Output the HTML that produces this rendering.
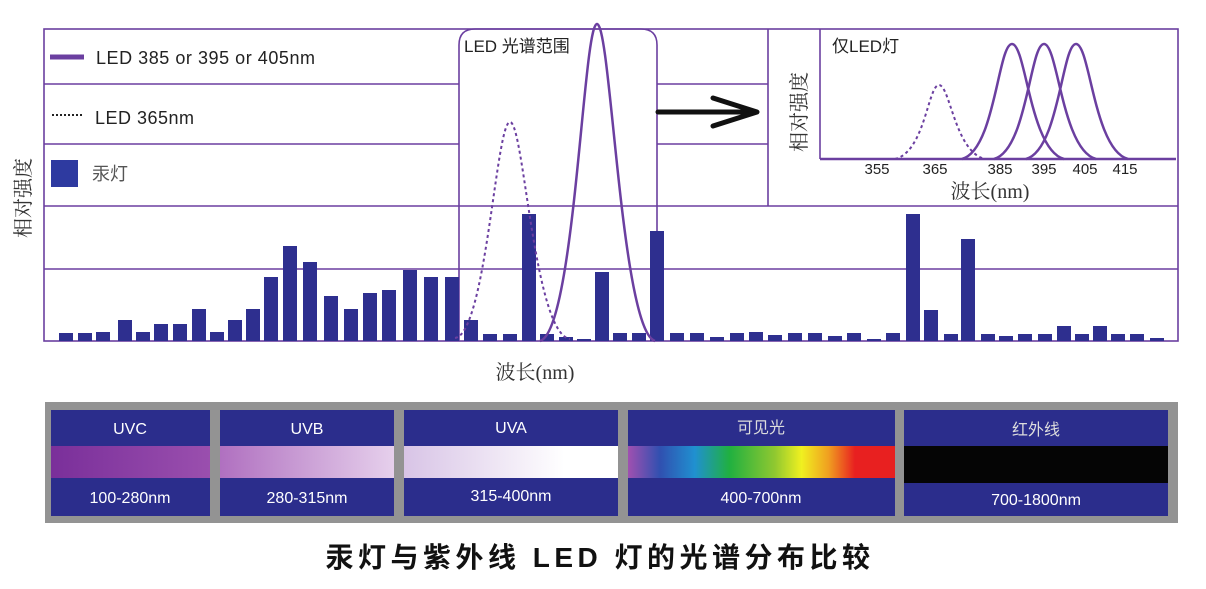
<!DOCTYPE html>
<html><head><meta charset="utf-8"><style>
html,body{margin:0;padding:0;background:#fff;}
svg{display:block;}
</style></head><body>
<svg width="1206" height="589" viewBox="0 0 1206 589" xmlns="http://www.w3.org/2000/svg">
<g stroke="#6b3fa0" stroke-width="1.6" fill="none">
<rect x="44" y="29" width="1134" height="312"/>
<line x1="44" y1="84" x2="459" y2="84"/>
<line x1="657" y1="84" x2="768" y2="84"/>
<line x1="44" y1="144" x2="459" y2="144"/>
<line x1="657" y1="144" x2="768" y2="144"/>
<line x1="44" y1="206" x2="1178" y2="206"/>
<line x1="44" y1="269" x2="1178" y2="269"/>
<line x1="768" y1="29" x2="768" y2="206"/>
<path d="M459,341 V45 Q459,29 475,29 H641 Q657,29 657,45 V341"/>
<line x1="820" y1="29" x2="820" y2="159"/>
<line x1="820" y1="159" x2="1176" y2="159" stroke-width="2.5"/>
</g>
<g fill="#2e2f8f">
<rect x="59" y="333" width="14" height="8"/><rect x="78" y="333" width="14" height="8"/><rect x="96" y="332" width="14" height="9"/><rect x="118" y="320" width="14" height="21"/><rect x="136" y="332" width="14" height="9"/><rect x="154" y="324" width="14" height="17"/><rect x="173" y="324" width="14" height="17"/><rect x="192" y="309" width="14" height="32"/><rect x="210" y="332" width="14" height="9"/><rect x="228" y="320" width="14" height="21"/><rect x="246" y="309" width="14" height="32"/><rect x="264" y="277" width="14" height="64"/><rect x="283" y="246" width="14" height="95"/><rect x="303" y="262" width="14" height="79"/><rect x="324" y="296" width="14" height="45"/><rect x="344" y="309" width="14" height="32"/><rect x="363" y="293" width="14" height="48"/><rect x="382" y="290" width="14" height="51"/><rect x="403" y="270" width="14" height="71"/><rect x="424" y="277" width="14" height="64"/><rect x="445" y="277" width="14" height="64"/><rect x="464" y="320" width="14" height="21"/><rect x="483" y="334" width="14" height="7"/><rect x="503" y="334" width="14" height="7"/><rect x="522" y="214" width="14" height="127"/><rect x="540" y="334" width="14" height="7"/><rect x="559" y="337" width="14" height="4"/><rect x="577" y="339" width="14" height="2"/><rect x="595" y="272" width="14" height="69"/><rect x="613" y="333" width="14" height="8"/><rect x="632" y="333" width="14" height="8"/><rect x="650" y="231" width="14" height="110"/><rect x="670" y="333" width="14" height="8"/><rect x="690" y="333" width="14" height="8"/><rect x="710" y="337" width="14" height="4"/><rect x="730" y="333" width="14" height="8"/><rect x="749" y="332" width="14" height="9"/><rect x="768" y="335" width="14" height="6"/><rect x="788" y="333" width="14" height="8"/><rect x="808" y="333" width="14" height="8"/><rect x="828" y="336" width="14" height="5"/><rect x="847" y="333" width="14" height="8"/><rect x="867" y="339" width="14" height="2"/><rect x="886" y="333" width="14" height="8"/><rect x="906" y="214" width="14" height="127"/><rect x="924" y="310" width="14" height="31"/><rect x="944" y="334" width="14" height="7"/><rect x="961" y="239" width="14" height="102"/><rect x="981" y="334" width="14" height="7"/><rect x="999" y="336" width="14" height="5"/><rect x="1018" y="334" width="14" height="7"/><rect x="1038" y="334" width="14" height="7"/><rect x="1057" y="326" width="14" height="15"/><rect x="1075" y="334" width="14" height="7"/><rect x="1093" y="326" width="14" height="15"/><rect x="1111" y="334" width="14" height="7"/><rect x="1130" y="334" width="14" height="7"/><rect x="1150" y="338" width="14" height="3"/>
</g>
<g fill="none" stroke="#6b3fa0">
<path d="M455,338 C486,334 496,122 510,122 C524,122 534,334 570,339" stroke-width="2" stroke-dasharray="3,3"/>
<path d="M540,341 C575,330 583,24 597,24 C611,24 621,330 655,341" stroke-width="2.5"/>
<path d="M895,159 C925,152 928,85 939,85 C950,85 955,152 985,159" stroke-width="2" stroke-dasharray="3,3"/>
<path d="M962,159 C995,150 998,44 1012,44 C1026,44 1030,150 1064,159" stroke-width="2.5"/>
<path d="M994,159 C1027,150 1030,44 1044,44 C1058,44 1062,150 1096,159" stroke-width="2.5"/>
<path d="M1026,159 C1059,150 1062,44 1076,44 C1090,44 1094,150 1128,159" stroke-width="2.5"/>
<line x1="50" y1="57" x2="84" y2="57" stroke-width="5"/>
<line x1="52" y1="115" x2="84" y2="115" stroke-width="2" stroke="#222" stroke-dasharray="2,2"/>
</g>
<rect x="51" y="160" width="27" height="27" fill="#2e3aa0"/>
<g stroke="#111" stroke-width="5" fill="none" stroke-linecap="round">
<line x1="658" y1="112" x2="752" y2="112"/>
<path d="M713,98 L757,112 L713,126" stroke-linejoin="round"/>
</g>
<g font-family="Liberation Sans, Noto Sans CJK SC, sans-serif" fill="#222">
<text x="96" y="64" font-size="18" textLength="219">LED 385 or 395 or 405nm</text>
<text x="95" y="124" font-size="18" textLength="99">LED 365nm</text>
<text x="92" y="180" font-size="18" fill="#555">汞灯</text>
<text x="464" y="52" font-size="17">LED 光谱范围</text>
<text x="832" y="52" font-size="17">仅LED灯</text>
<g font-size="15"><text x="877" y="174" text-anchor="middle">355</text><text x="935" y="174" text-anchor="middle">365</text><text x="1000" y="174" text-anchor="middle">385</text><text x="1044" y="174" text-anchor="middle">395</text><text x="1085" y="174" text-anchor="middle">405</text><text x="1125" y="174" text-anchor="middle">415</text></g>
</g>
<g font-family="Liberation Serif, Noto Serif CJK SC, serif" fill="#333" font-size="20">
<text x="535" y="379" text-anchor="middle">波长(nm)</text>
<text x="990" y="198" text-anchor="middle">波长(nm)</text>
<text transform="translate(30,198) rotate(-90)" text-anchor="middle">相对强度</text>
<text transform="translate(806,112) rotate(-90)" text-anchor="middle">相对强度</text>
</g>
<defs>
<linearGradient id="g1"><stop offset="0" stop-color="#7a2f9a"/><stop offset="1" stop-color="#9a4fae"/></linearGradient>
<linearGradient id="g2"><stop offset="0" stop-color="#b070c0"/><stop offset="1" stop-color="#e6d0ec"/></linearGradient>
<linearGradient id="g3"><stop offset="0" stop-color="#d8c4e6"/><stop offset="0.75" stop-color="#ffffff"/><stop offset="1" stop-color="#fff"/></linearGradient>
<linearGradient id="g4"><stop offset="0" stop-color="#a050b0"/><stop offset="0.12" stop-color="#3050b0"/><stop offset="0.25" stop-color="#2090d0"/><stop offset="0.38" stop-color="#20b040"/><stop offset="0.55" stop-color="#90c830"/><stop offset="0.65" stop-color="#f0f020"/><stop offset="0.75" stop-color="#f0a020"/><stop offset="0.85" stop-color="#e82020"/><stop offset="1" stop-color="#e82020"/></linearGradient>
</defs>
<rect x="45" y="402" width="1133" height="121" fill="#939393"/>
<g fill="#2b2d8c">
<rect x="51" y="410" width="159" height="106"/><rect x="220" y="410" width="174" height="106"/><rect x="404" y="410" width="214" height="106"/><rect x="628" y="410" width="267" height="106"/><rect x="904" y="410" width="264" height="106"/>
</g>
<rect x="51" y="446" width="159" height="32" fill="url(#g1)"/>
<rect x="220" y="446" width="174" height="32" fill="url(#g2)"/>
<rect x="404" y="446" width="214" height="32" fill="url(#g3)"/>
<rect x="628" y="446" width="267" height="32" fill="url(#g4)"/>
<rect x="904" y="446" width="264" height="37" fill="#050505"/>
<g font-family="Liberation Sans, Noto Sans CJK SC, sans-serif" fill="#fff" font-size="16" text-anchor="middle">
<text x="130" y="434">UVC</text><text x="307" y="434">UVB</text><text x="511" y="433">UVA</text><text x="761" y="433" fill="#ddd">可见光</text><text x="1036" y="435" fill="#ddd">红外线</text>
<text x="130" y="503">100-280nm</text><text x="307" y="503">280-315nm</text><text x="511" y="501">315-400nm</text><text x="761" y="503">400-700nm</text><text x="1036" y="505">700-1800nm</text>
</g>
<text x="600" y="567" text-anchor="middle" font-family="Liberation Sans, Noto Sans CJK SC, sans-serif" font-weight="bold" font-size="28" letter-spacing="4.5" fill="#111">汞灯与紫外线 LED 灯的光谱分布比较</text>
</svg>
</body></html>
